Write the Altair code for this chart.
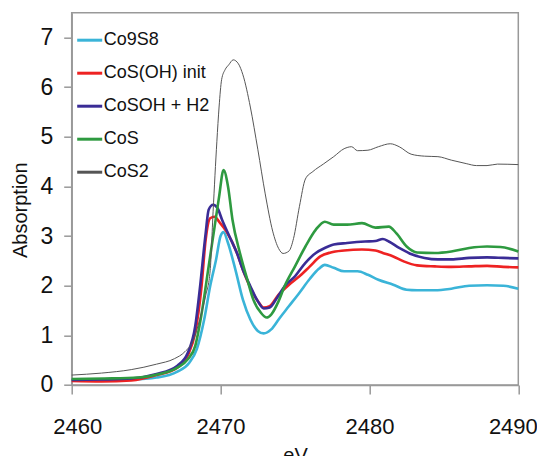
import altair as alt
import pandas as pd

series_names = ["Co9S8", "CoS(OH) init", "CoSOH + H2", "CoS", "CoS2"]
series_colors = ["#3ab4d8", "#ee2222", "#3a2c96", "#2e9a40", "#555555"]

co9s8_x = [2460, 2462, 2464, 2465.7, 2467.1, 2467.9, 2468.4, 2468.9, 2469.3, 2469.7, 2470.0, 2470.2, 2470.5, 2471.0, 2471.5, 2472.0, 2472.5, 2472.9, 2473.4, 2473.9, 2474.6, 2475.3, 2476.0, 2476.6, 2477.0, 2477.6, 2478.3, 2479.2, 2479.9, 2480.6, 2481.6, 2482.5, 2483.2, 2484.4, 2485.5, 2486.7, 2487.9, 2489.0, 2490]
co9s8_y = [0.10, 0.10, 0.11, 0.15, 0.27, 0.45, 0.72, 1.32, 1.99, 2.53, 3.0, 3.08, 2.86, 2.32, 1.72, 1.32, 1.09, 1.04, 1.12, 1.32, 1.59, 1.86, 2.14, 2.34, 2.42, 2.36, 2.29, 2.29, 2.22, 2.12, 2.02, 1.92, 1.91, 1.91, 1.94, 2.0, 2.01, 2.0, 1.94]

cosoh_x = [2460, 2462, 2464, 2465.7, 2467.1, 2467.8, 2468.3, 2468.7, 2469.0, 2469.3, 2469.6, 2469.9, 2470.4, 2471.1, 2471.5, 2472.0, 2472.5, 2472.9, 2473.3, 2473.9, 2474.6, 2475.3, 2476.0, 2476.7, 2477.4, 2478.3, 2479.5, 2480.4, 2480.9, 2481.6, 2482.3, 2483.2, 2484.4, 2485.5, 2486.7, 2487.9, 2489.0, 2490]
cosoh_y = [0.08, 0.07, 0.09, 0.2, 0.35, 0.6, 1.06, 1.92, 2.93, 3.36, 3.39, 3.29, 3.09, 2.66, 2.32, 1.96, 1.69, 1.56, 1.59, 1.82, 2.02, 2.19, 2.39, 2.59, 2.67, 2.71, 2.73, 2.71, 2.66, 2.59, 2.49, 2.41, 2.39, 2.38, 2.39, 2.4, 2.38, 2.37]

cosoh_h2_x = [2460, 2462, 2464, 2465.7, 2467.1, 2467.8, 2468.3, 2468.6, 2469.0, 2469.2, 2469.5, 2469.8, 2470.1, 2470.6, 2471.1, 2471.5, 2472.0, 2472.5, 2472.9, 2473.3, 2473.8, 2474.3, 2475.0, 2475.7, 2476.4, 2477.0, 2477.6, 2478.5, 2479.7, 2480.4, 2480.9, 2481.3, 2482.0, 2482.7, 2483.7, 2484.6, 2485.5, 2486.7, 2487.9, 2489.0, 2490]
cosoh_h2_y = [0.10, 0.11, 0.13, 0.22, 0.39, 0.65, 1.19, 1.92, 3.06, 3.53, 3.63, 3.56, 3.33, 2.99, 2.66, 2.32, 1.99, 1.69, 1.54, 1.56, 1.76, 1.99, 2.19, 2.46, 2.66, 2.76, 2.83, 2.86, 2.89, 2.9, 2.94, 2.89, 2.76, 2.65, 2.56, 2.53, 2.53, 2.56, 2.57, 2.56, 2.55]

cos_x = [2460, 2462.2, 2464.5, 2465.9, 2467.1, 2467.8, 2468.3, 2468.7, 2469.2, 2469.6, 2469.9, 2470.2, 2470.5, 2470.8, 2471.3, 2471.8, 2472.2, 2472.7, 2473.1, 2473.4, 2473.9, 2474.3, 2475.0, 2475.7, 2476.4, 2477.0, 2477.6, 2478.5, 2479.5, 2480.4, 2481.3, 2481.8, 2482.5, 2483.2, 2484.4, 2485.5, 2486.7, 2487.9, 2488.8, 2490]
cos_y = [0.12, 0.13, 0.15, 0.22, 0.35, 0.52, 0.79, 1.39, 2.39, 3.19, 3.79, 4.33, 4.0, 3.33, 2.66, 2.12, 1.72, 1.46, 1.36, 1.42, 1.69, 1.99, 2.39, 2.79, 3.13, 3.29, 3.23, 3.23, 3.26, 3.17, 3.19, 3.06, 2.79, 2.67, 2.66, 2.69, 2.76, 2.79, 2.78, 2.69]

cos2_x = [2460, 2462, 2464, 2465.7, 2466.9, 2467.6, 2468.2, 2468.6, 2469.0, 2469.3, 2469.5, 2469.75, 2469.9, 2470.07, 2470.3, 2470.55, 2470.85, 2471.2, 2471.5, 2472.0, 2472.5, 2473.0, 2473.5, 2473.9, 2474.2, 2474.6, 2474.9, 2475.3, 2475.7, 2476.2, 2476.9, 2477.6, 2478.3, 2478.8, 2479.2, 2479.9, 2480.6, 2481.4, 2482.0, 2482.8, 2483.7, 2484.6, 2485.5, 2486.5, 2487.2, 2487.9, 2488.6, 2490]
cos2_y = [0.2, 0.24, 0.31, 0.42, 0.53, 0.67, 0.92, 1.32, 1.8, 2.3, 3.5, 4.9, 5.6, 6.15, 6.35, 6.45, 6.55, 6.47, 6.25, 5.6, 4.75, 3.85, 3.1, 2.75, 2.65, 2.7, 2.95, 3.6, 4.15, 4.3, 4.45, 4.6, 4.76, 4.8, 4.72, 4.73, 4.8, 4.86, 4.8, 4.65, 4.61, 4.6, 4.53, 4.46, 4.42, 4.42, 4.45, 4.44]

x_ticks = [2460, 2470, 2480, 2490]
y_ticks = [0, 1, 2, 3, 4, 5, 6, 7]

rows = []
for name, xs, ys in [
    ("Co9S8", co9s8_x, co9s8_y),
    ("CoS(OH) init", cosoh_x, cosoh_y),
    ("CoSOH + H2", cosoh_h2_x, cosoh_h2_y),
    ("CoS", cos_x, cos_y),
    ("CoS2", cos2_x, cos2_y),
]:
    for i, (x, y) in enumerate(zip(xs, ys)):
        rows.append({"series": name, "eV": x, "abs": y, "order": i})
df = pd.DataFrame(rows)

FONT = "Liberation Sans"

chart = alt.Chart(df).mark_line(interpolate="monotone").encode(
    x=alt.X("eV:Q",
            scale=alt.Scale(domain=[2460, 2490], nice=False, zero=False),
            axis=alt.Axis(values=x_ticks, format="d", title="eV", grid=False,
                          tickSize=9, labelPadding=23, labelFontSize=22,
                          labelFlush=True, labelFlushOffset=19,
                          titleFontSize=20, titleY=61, titleBaseline="top",
                          titleFontWeight="normal")),
    y=alt.Y("abs:Q",
            scale=alt.Scale(domain=[0, 7.5], nice=False),
            axis=alt.Axis(values=y_ticks, title="Absorption", grid=False,
                          tickSize=8, labelPadding=11, labelFontSize=23,
                          titleFontSize=20, titleX=-41, titleY=197,
                          titleFontWeight="normal")),
    color=alt.Color("series:N",
                    scale=alt.Scale(domain=series_names, range=series_colors),
                    legend=alt.Legend(title=None, orient="none", legendX=4, legendY=13.5,
                                      symbolType="stroke", symbolSize=625,
                                      symbolStrokeWidth=3, labelFontSize=18,
                                      labelOffset=0, rowPadding=10, padding=0,
                                      labelColor="#111111")),
    strokeWidth=alt.condition(alt.datum.series == "CoS2", alt.value(1), alt.value(2.6)),
    order="order:Q",
).properties(
    width=446.6,
    height=372.3,
    autosize="none",
    padding={"left": 63.7, "top": 4.7, "right": 18.5, "bottom": 71},
).configure(
    font=FONT,
).configure_axis(
    domainColor="#999999",
    domainWidth=1.5,
    tickColor="#999999",
    tickWidth=1.5,
    labelColor="#111111",
    titleColor="#111111",
    labelFont=FONT,
    titleFont=FONT,
).configure_view(
    stroke="#999999",
    strokeWidth=1.5,
)

chart.save("out.html", embed_options={"renderer": "svg", "actions": False})
